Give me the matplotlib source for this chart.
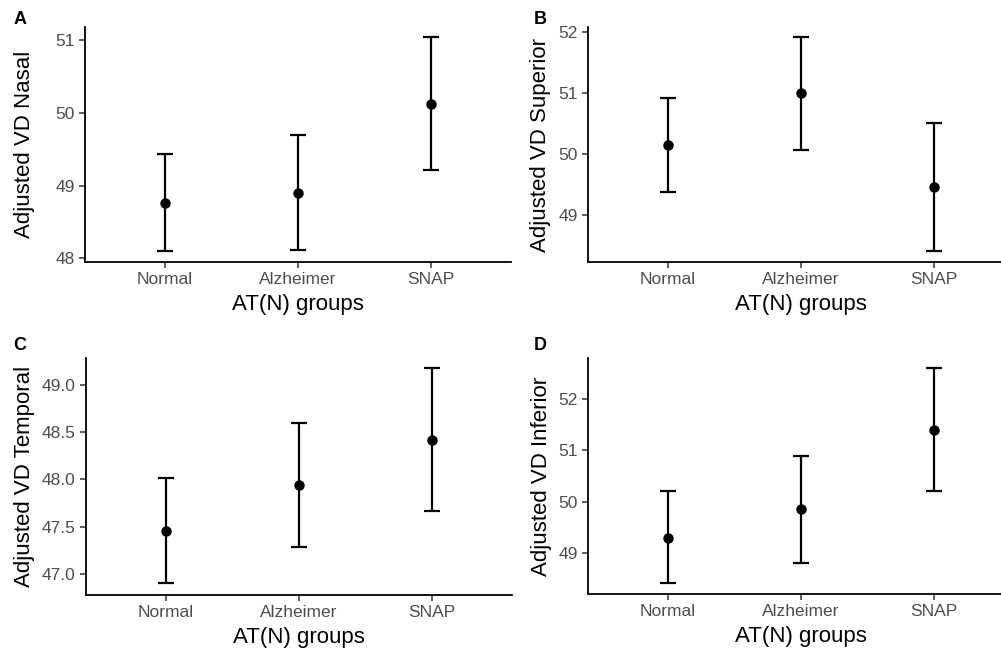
import numpy as np
import matplotlib
matplotlib.use("Agg")
import matplotlib.pyplot as plt

plt.rcParams['font.family'] = ['Liberation Sans', 'DejaVu Sans']

groups = ["Normal", "Alzheimer", "SNAP"]

# means, lower and upper limits
nasal_mean = [48.76, 48.90, 50.12]
nasal_low = [48.10, 48.11, 49.21]
nasal_high = [49.43, 49.69, 51.04]

superior_mean = [50.15, 51.00, 49.45]
superior_low = [49.37, 50.06, 48.40]
superior_high = [50.92, 51.92, 50.51]

temporal_mean = [47.46, 47.94, 48.42]
temporal_low = [46.91, 47.29, 47.67]
temporal_high = [48.01, 48.59, 49.17]

inferior_mean = [49.29, 49.85, 51.39]
inferior_low = [48.41, 48.80, 50.21]
inferior_high = [50.20, 50.89, 52.60]

W, H = 1001, 650
fig = plt.figure(figsize=(W / 100, H / 100), dpi=100)


def px_axes(left, top, width, height):
    return fig.add_axes([left / W, 1 - (top + height) / H, width / W, height / H])


panels = [
    ("A", "Adjusted VD Nasal", nasal_mean, nasal_low, nasal_high,
     (85, 27, 426, 235), (47.95, 51.18), [48, 49, 50, 51], "%d", (20, 20), 35),
    ("B", "Adjusted VD Superior", superior_mean, superior_low, superior_high,
     (588, 27, 426, 235), (48.22, 52.08), [49, 50, 51, 52], "%d", (540, 20), 551),
    ("C", "Adjusted VD Temporal", temporal_mean, temporal_low, temporal_high,
     (86, 358, 426, 237), (46.78, 49.28), [47, 47.5, 48, 48.5, 49], "%.1f", (20, 346), 35),
    ("D", "Adjusted VD Inferior", inferior_mean, inferior_low, inferior_high,
     (588, 358, 426, 236), (48.20, 52.80), [49, 50, 51, 52], "%d", (540, 346), 552),
]

for letter, ylab, m, lo, hi, box, ylim, yt, fmt, lpos, ylab_x in panels:
    ax = px_axes(*box)
    x = np.arange(1, 4)
    m = np.array(m)
    err = [m - np.array(lo), np.array(hi) - m]
    ax.errorbar(x, m, yerr=err, fmt='o', color='black', ms=6.5,
                elinewidth=1.6, capsize=5.8, capthick=1.6)
    ax.set_xlim(0.4, 3.6)
    ax.set_ylim(*ylim)
    ax.set_xticks(x)
    ax.set_xticklabels(groups)
    ax.set_yticks(yt)
    ax.set_yticklabels([fmt % v for v in yt])
    ax.tick_params(labelsize=12.5, labelcolor='#4d4d4d', color='#333333',
                   length=4, width=1.1)
    for s in ['top', 'right']:
        ax.spines[s].set_visible(False)
    for s in ['left', 'bottom']:
        ax.spines[s].set_linewidth(1.3)
    ax.set_xlabel("AT(N) groups", fontsize=16, labelpad=5)
    ax.set_ylabel(ylab, fontsize=16)
    ax.yaxis.set_label_coords((ylab_x - box[0]) / box[2], 0.5)
    fig.text(lpos[0] / W, 1 - lpos[1] / H, letter, fontsize=13,
             fontweight='bold', ha='center', va='center')

fig.savefig("out.png", dpi=100)
